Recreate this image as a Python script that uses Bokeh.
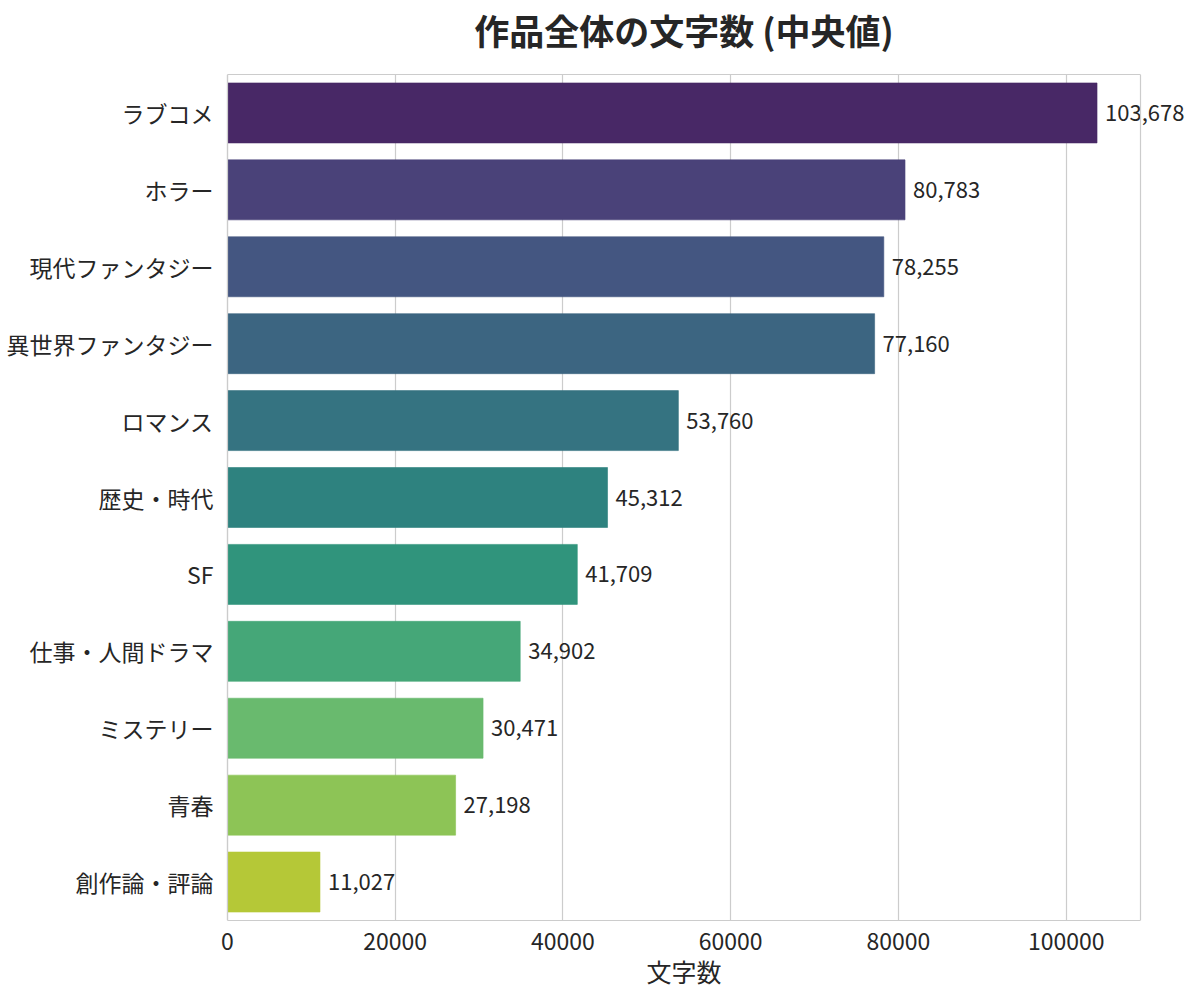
import colorsys
from bokeh.plotting import figure
from bokeh.models import (Range1d, FactorRange, ColumnDataSource, SingleIntervalTicker, FixedTicker,
                          BasicTickFormatter, LinearAxis, Span)
from bokeh.core.properties import value
from bokeh.palettes import Viridis256
from bokeh.embed import file_html
from bokeh.resources import INLINE

title_text = "作品全体の文字数 (中央値)"
x_label = "文字数"
genres = ["ラブコメ", "ホラー", "現代ファンタジー", "異世界ファンタジー", "ロマンス", "歴史・時代",
          "SF", "仕事・人間ドラマ", "ミステリー", "青春", "創作論・評論"]
median_chars = [103678, 80783, 78255, 77160, 53760, 45312, 41709, 34902, 30471, 27198, 11027]
labels = [f"{v:,}" for v in median_chars]

X_MAX = max(median_chars) * 1.05            # right edge of the drawn axes box
BOX_L, BOX_R, W = 227, 1140, 1200           # pixel layout of the drawn box
PAD = W - BOX_R                             # frame extended symmetrically so labels are not clipped
PX_PER_UNIT = (BOX_R - BOX_L) / X_MAX
X_START = -PAD / PX_PER_UNIT
X_END = X_MAX + PAD / PX_PER_UNIT

def desat(hexc, prop=0.75):
    r, g, b = (int(hexc[i:i + 2], 16) / 255 for i in (1, 3, 5))
    h, l, s = colorsys.rgb_to_hls(r, g, b)
    r, g, b = colorsys.hls_to_rgb(h, l, s * prop)
    return "#%02x%02x%02x" % (round(r * 255), round(g * 255), round(b * 255))

n = len(genres)
colors = [desat(Viridis256[int(round(255 * (i + 1) / (n + 1)))]) for i in range(n)]

src = ColumnDataSource(dict(genre=genres, v=median_chars, lab=labels, color=colors))

FONT = "Noto Sans CJK JP"
TXT = "#262626"
EDGE = "#cccccc"

p = figure(width=W, height=997, output_backend="svg", toolbar_location=None,
           y_range=FactorRange(factors=list(reversed(genres)), range_padding=0),
           x_range=Range1d(X_START, X_END),
           min_border_left=BOX_L - PAD, min_border_right=0, min_border_top=72, min_border_bottom=77)
p.outline_line_color = None

p.hbar(y="genre", right="v", left=0, height=0.78, color="color", line_color="color",
       line_alpha=0.6, source=src)
p.text(x="v", y="genre", text="lab", source=src, x_offset=8, text_align="left",
       text_baseline="middle", text_font=value(FONT), text_font_size="22px", text_color=TXT)

p.ygrid.grid_line_color = None
p.xgrid.grid_line_color = EDGE
p.xgrid.grid_line_width = 1.2
p.xgrid.ticker = SingleIntervalTicker(interval=20000)

# left and right edges of the box
p.add_layout(Span(location=0, dimension="height", line_color=EDGE, line_width=1.2))
p.add_layout(Span(location=X_MAX, dimension="height", line_color=EDGE, line_width=1.2))

xa = p.xaxis[0]
xa.bounds = (0, X_MAX)
xa.ticker = SingleIntervalTicker(interval=20000)
xa.formatter = BasicTickFormatter(use_scientific=False)
xa.axis_line_color = EDGE
xa.axis_line_width = 1.2
xa.major_tick_line_color = None
xa.minor_tick_line_color = None
xa.major_tick_out = 0
xa.major_label_text_font = FONT
xa.major_label_text_font_size = "23px"
xa.major_label_text_color = TXT
xa.major_label_standoff = 8
xa.axis_label = x_label
xa.axis_label_text_font = FONT
xa.axis_label_text_font_size = "25px"
xa.axis_label_text_font_style = "normal"
xa.axis_label_text_color = TXT
xa.axis_label_standoff = 0

# top edge of the box, carrying the title
top = LinearAxis(bounds=(0, X_MAX), ticker=FixedTicker(ticks=[]),
                 axis_line_color=EDGE, axis_line_width=1.2,
                 major_tick_line_color=None, minor_tick_line_color=None,
                 major_tick_out=0, major_label_standoff=0,
                 axis_label=title_text, axis_label_text_font=FONT,
                 axis_label_text_font_size="35px", axis_label_text_font_style="bold",
                 axis_label_text_color=TXT, axis_label_standoff=20)
p.add_layout(top, "above")

ya = p.yaxis[0]
ya.axis_line_color = None
ya.major_tick_line_color = None
ya.minor_tick_line_color = None
ya.major_tick_out = 0
ya.major_label_text_font = FONT
ya.major_label_text_font_size = "23px"
ya.major_label_text_color = TXT
ya.major_label_standoff = 14 - PAD

open("out.html", "w").write(file_html(p, INLINE))
